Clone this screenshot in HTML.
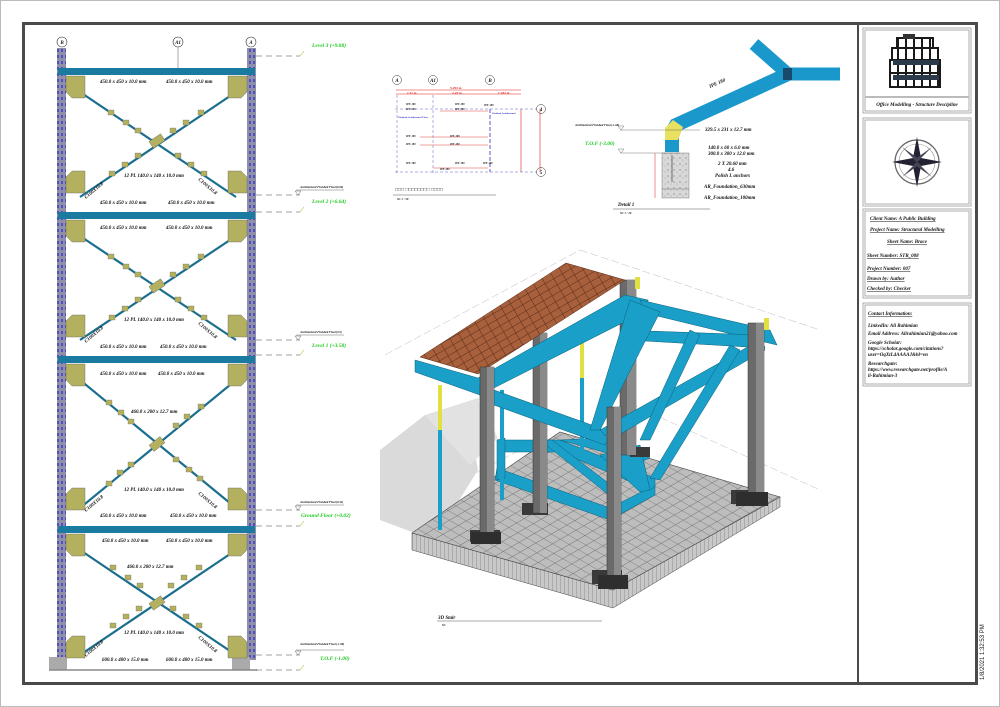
<!DOCTYPE html>
<html><head><meta charset="utf-8"><style>
html,body{margin:0;padding:0;background:#fff;}
svg{display:block;font-family:"Liberation Serif",serif;}
.t{font-style:italic;font-weight:bold;font-size:5px;fill:#111;}
.g{font-style:italic;font-weight:bold;font-size:5.5px;fill:#22cc22;}
.s{font-style:italic;font-weight:bold;font-size:3px;fill:#111;}
.tb{font-style:italic;font-weight:bold;font-size:5px;fill:#111;text-decoration:underline;}
</style></head><body>
<svg width="1000" height="707" viewBox="0 0 1000 707" xmlns="http://www.w3.org/2000/svg">
<defs>
<pattern id="col" width="8" height="6" patternUnits="userSpaceOnUse">
<rect width="8" height="6" fill="#8f8fa8"/><rect x="1" y="1" width="2" height="3" fill="#5050c0"/><rect x="5" y="1" width="2" height="3" fill="#5050c0"/>
</pattern>
<pattern id="grid" width="9" height="9" patternUnits="userSpaceOnUse" patternTransform="rotate(-30) skewX(30)">
<rect width="9" height="9" fill="#bdbdbd"/><path d="M0 0H9M0 0V9" stroke="#6a6a6a" stroke-width=".8"/>
</pattern>
<pattern id="conc" width="6" height="6" patternUnits="userSpaceOnUse">
<rect width="6" height="6" fill="#d8d8d8"/><circle cx="2" cy="2" r=".6" fill="#777"/><circle cx="5" cy="4" r=".5" fill="#999"/>
</pattern>
<pattern id="side" width="4" height="10" patternUnits="userSpaceOnUse">
<rect width="4" height="10" fill="#c8c8c8"/><path d="M0 0V10" stroke="#666" stroke-width=".6"/>
</pattern>
<pattern id="tile" width="10" height="7" patternUnits="userSpaceOnUse" patternTransform="rotate(-30)">
<rect width="10" height="7" fill="#a8603c"/><path d="M0 0H10M0 0V7" stroke="#5a2c18" stroke-width="1"/>
</pattern>
<g id="bay">
<polygon points="66,0 85,0 85,22 72,22 66,16" fill="#b3b060" stroke="#666" stroke-width=".4"/>
<polygon points="228,0 247,0 247,16 241,22 228,22" fill="#b3b060" stroke="#666" stroke-width=".4"/>
</g>
</defs>
<rect x="0.5" y="0.5" width="999" height="706" fill="#fff" stroke="#bbb"/>
<rect x="23.5" y="23.5" width="953" height="660" fill="none" stroke="#4a4a4a" stroke-width="3"/>
<line x1="858" y1="24" x2="858" y2="683" stroke="#4a4a4a" stroke-width="2"/>
<text x="984" y="680" transform="rotate(-90 984 680)" font-family="Liberation Sans,sans-serif" font-size="6" fill="#222">1/8/2021 1:32:53 PM</text>

<!-- ============ LEFT ELEVATION ============ -->
<g font-family="Liberation Serif,serif">
<circle cx="62" cy="42" r="5" fill="#fff" stroke="#333" stroke-width=".6"/><text x="62" y="44" class="t" text-anchor="middle">B</text>
<circle cx="178" cy="42" r="5" fill="#fff" stroke="#333" stroke-width=".6"/><text x="178" y="44" class="t" text-anchor="middle">A1</text>
<circle cx="251" cy="42" r="5" fill="#fff" stroke="#333" stroke-width=".6"/><text x="251" y="44" class="t" text-anchor="middle">A</text>
<line x1="178" y1="47" x2="178" y2="68" stroke="#555" stroke-width=".5"/>
<rect x="57" y="48" width="9" height="612" fill="url(#col)"/>
<rect x="247" y="48" width="9" height="612" fill="url(#col)"/>
<rect x="58" y="68" width="197" height="7" fill="#1a7aa0"/>
<rect x="58" y="212" width="197" height="7" fill="#1a7aa0"/>
<rect x="58" y="356" width="197" height="7" fill="#1a7aa0"/>
<rect x="58" y="526" width="197" height="7" fill="#1a7aa0"/>
<rect x="49" y="657" width="18" height="13" fill="#aaa"/><rect x="232" y="657" width="18" height="13" fill="#aaa"/>
<line x1="49" y1="670" x2="257" y2="670" stroke="#888" stroke-width="1.5"/>
<g stroke="#1a6e8e" stroke-width="2.2">
<line x1="80" y1="92" x2="236" y2="197"/><line x1="236" y1="92" x2="80" y2="197"/>
<line x1="80" y1="236" x2="236" y2="340"/><line x1="236" y1="236" x2="80" y2="340"/>
<line x1="80" y1="380" x2="236" y2="508"/><line x1="236" y1="380" x2="80" y2="508"/>
<line x1="80" y1="550" x2="236" y2="655"/><line x1="236" y1="550" x2="80" y2="655"/>
</g>
<use href="#bay" y="76"/><use href="#bay" y="220"/><use href="#bay" y="364"/><use href="#bay" y="534"/>
<g transform="translate(0,183) scale(1,-1)"><use href="#bay" y="-10"/></g>
<g transform="translate(0,327) scale(1,-1)"><use href="#bay" y="-10"/></g>
<g transform="translate(0,500) scale(1,-1)"><use href="#bay" y="-10"/></g>
<g transform="translate(0,648) scale(1,-1)"><use href="#bay" y="-10"/></g>
<g fill="#b3b060" stroke="#666" stroke-width=".4">
<rect x="150" y="137" width="14" height="8" transform="rotate(-34 157 141)"/>
<rect x="150" y="282" width="14" height="8" transform="rotate(-34 157 286)"/>
<rect x="150" y="440" width="14" height="8" transform="rotate(-39 157 444)"/>
<rect x="150" y="599" width="14" height="8" transform="rotate(-34 157 603)"/>
</g>
<g fill="#b3b060" stroke="#666" stroke-width=".3">
<rect x="108" y="110" width="6" height="5"/><rect x="123" y="120" width="6" height="5"/><rect x="135" y="128" width="6" height="5"/>
<rect x="175" y="153" width="6" height="5"/><rect x="188" y="162" width="6" height="5"/><rect x="201" y="171" width="6" height="5"/>
<rect x="198" y="110" width="6" height="5"/><rect x="183" y="120" width="6" height="5"/><rect x="170" y="128" width="6" height="5"/>
<rect x="135" y="153" width="6" height="5"/><rect x="122" y="162" width="6" height="5"/><rect x="109" y="171" width="6" height="5"/>
<rect x="108" y="254" width="6" height="5"/><rect x="123" y="264" width="6" height="5"/><rect x="135" y="272" width="6" height="5"/>
<rect x="175" y="297" width="6" height="5"/><rect x="188" y="306" width="6" height="5"/><rect x="201" y="315" width="6" height="5"/>
<rect x="198" y="254" width="6" height="5"/><rect x="183" y="264" width="6" height="5"/><rect x="170" y="272" width="6" height="5"/>
<rect x="135" y="297" width="6" height="5"/><rect x="122" y="306" width="6" height="5"/><rect x="109" y="315" width="6" height="5"/>
<rect x="106" y="400" width="6" height="5"/><rect x="118" y="410" width="6" height="5"/><rect x="128" y="419" width="6" height="5"/>
<rect x="173" y="457" width="6" height="5"/><rect x="186" y="467" width="6" height="5"/><rect x="197" y="476" width="6" height="5"/>
<rect x="198" y="404" width="6" height="5"/><rect x="184" y="414" width="6" height="5"/><rect x="173" y="423" width="6" height="5"/>
<rect x="128" y="462" width="6" height="5"/><rect x="117" y="470" width="6" height="5"/><rect x="106" y="481" width="6" height="5"/>
<rect x="110" y="565" width="6" height="5"/><rect x="125" y="575" width="6" height="5"/><rect x="137" y="583" width="6" height="5"/>
<rect x="170" y="606" width="6" height="5"/><rect x="183" y="614" width="6" height="5"/><rect x="196" y="623" width="6" height="5"/>
<rect x="196" y="565" width="6" height="5"/><rect x="181" y="575" width="6" height="5"/><rect x="168" y="583" width="6" height="5"/>
<rect x="136" y="606" width="6" height="5"/><rect x="123" y="614" width="6" height="5"/><rect x="110" y="623" width="6" height="5"/>
</g>
<g class="t">
<text x="100" y="83">450.0 x 450 x 10.0 mm</text><text x="166" y="83">450.0 x 450 x 10.0 mm</text>
<text x="100" y="204">450.0 x 450 x 10.0 mm</text><text x="168" y="204">450.0 x 450 x 10.0 mm</text>
<text x="100" y="229">450.0 x 450 x 10.0 mm</text><text x="166" y="229">450.0 x 450 x 10.0 mm</text>
<text x="100" y="348">450.0 x 450 x 10.0 mm</text><text x="160" y="348">450.0 x 450 x 10.0 mm</text>
<text x="100" y="375">450.0 x 450 x 10.0 mm</text><text x="158" y="375">450.0 x 450 x 10.0 mm</text>
<text x="100" y="517">450.0 x 450 x 10.0 mm</text><text x="170" y="517">450.0 x 450 x 10.0 mm</text>
<text x="102" y="542">450.0 x 450 x 10.0 mm</text><text x="166" y="542">450.0 x 450 x 10.0 mm</text>
<text x="102" y="661">600.0 x 400 x 15.0 mm</text><text x="166" y="661">600.0 x 400 x 15.0 mm</text>
<text x="124" y="177">12 PL 140.0 x 140 x 10.0 mm</text>
<text x="124" y="321">12 PL 140.0 x 140 x 10.0 mm</text>
<text x="124" y="491">12 PL 140.0 x 140 x 10.0 mm</text>
<text x="124" y="634">12 PL 140.0 x 140 x 10.0 mm</text>
<text x="131" y="413">460.0 x 200 x 12.7 mm</text>
<text x="127" y="568">460.0 x 200 x 12.7 mm</text>
</g>
<g class="t" font-size="6">
<text x="86" y="199" transform="rotate(-40 86 199)">C100X10.8</text>
<text x="198" y="180" transform="rotate(40 198 180)">C100X10.8</text>
<text x="86" y="343" transform="rotate(-40 86 343)">C100X10.8</text>
<text x="198" y="324" transform="rotate(40 198 324)">C100X10.8</text>
<text x="86" y="512" transform="rotate(-40 86 512)">C100X10.8</text>
<text x="198" y="494" transform="rotate(40 198 494)">C100X10.8</text>
<text x="86" y="657" transform="rotate(-40 86 657)">C100X10.8</text>
<text x="198" y="638" transform="rotate(40 198 638)">C100X10.8</text>
</g>
<g stroke="#444" stroke-width=".5" stroke-dasharray="6,4" fill="none">
<line x1="256" y1="56" x2="300" y2="56"/>
<line x1="256" y1="195" x2="300" y2="195"/><line x1="256" y1="212" x2="300" y2="212"/>
<line x1="256" y1="340" x2="300" y2="340"/><line x1="256" y1="355" x2="300" y2="355"/>
<line x1="256" y1="510" x2="300" y2="510"/><line x1="256" y1="526" x2="300" y2="526"/>
<line x1="256" y1="655" x2="300" y2="655"/><line x1="256" y1="670" x2="300" y2="670"/>
</g>
<g stroke="#bbb830" stroke-width=".6" fill="none">
<path d="M300 56l4 -5M300 212l4 -5M300 355l4 -5M300 526l4 -5M300 670l4 -5"/>
</g>
<g stroke="#444" stroke-width=".4" fill="none">
<path d="M298 195l3 -4h-6zM298 340l3 -4h-6zM298 510l3 -4h-6zM298 655l3 -4h-6z"/>
<path d="M296 190h48M296 335h48M296 505h48M296 650h48"/>
</g>
<text x="312" y="47" class="g">Level 3 (+9.88)</text>
<text x="312" y="203" class="g">Level 2 (+6.64)</text>
<text x="312" y="347" class="g">Level 1 (+3.58)</text>
<text x="301" y="517" class="g">Ground Floor (+0.02)</text>
<text x="320" y="660" class="g">T.O.F (-1.00)</text>
<text x="300" y="188" class="s">Architectural Finished Floor(6.96)</text>
<text x="300" y="333" class="s">Architectural Finished Floor(3.9)</text>
<text x="300" y="503" class="s">Architectural Finished Floor(0.34)</text>
<text x="300" y="645" class="s">Architectural Finished Floor(-1.68)</text>
</g>

<!-- ============ PLAN ============ -->
<g>
<g fill="#fff" stroke="#333" stroke-width=".5">
<circle cx="397" cy="80" r="4.5"/><circle cx="433" cy="80" r="4.5"/><circle cx="490" cy="80" r="4.5"/>
<circle cx="541" cy="109" r="4.5"/><circle cx="541" cy="172" r="4.5"/>
</g>
<g class="t" font-size="4.5" text-anchor="middle"><text x="397" y="82">A</text><text x="433" y="82">A1</text><text x="490" y="82">B</text><text x="541" y="111">4</text><text x="541" y="174">5</text></g>
<g stroke="#e02020" stroke-width=".6"><line x1="396" y1="90" x2="521" y2="90"/><line x1="396" y1="94" x2="521" y2="94"/><line x1="521" y1="109" x2="521" y2="172"/><line x1="540" y1="109" x2="540" y2="172"/></g>
<g font-size="3.5" font-weight="bold" font-style="italic" fill="#e02020"><text x="450" y="89">5.293 m</text><text x="407" y="94">1.11 m</text><text x="452" y="94">2.45 m</text><text x="498" y="94">1.282 m</text></g>
<g stroke="#6060c0" stroke-width=".5" stroke-dasharray="3,2"><line x1="395" y1="109" x2="537" y2="109"/><line x1="395" y1="172" x2="537" y2="172"/><line x1="397" y1="95" x2="397" y2="175"/><line x1="433" y1="95" x2="433" y2="175"/></g>
<line x1="490" y1="109" x2="490" y2="172" stroke="#3030c0" stroke-width=".8" stroke-dasharray="4,2"/>
<g stroke="#e04040" stroke-width=".5"><line x1="440" y1="111" x2="488" y2="111"/><line x1="420" y1="137" x2="488" y2="137"/><line x1="420" y1="145" x2="488" y2="145"/><line x1="433" y1="168" x2="488" y2="168"/></g>
<g font-size="2.8" font-weight="bold" font-style="italic" fill="#222">
<text x="406" y="105">IPE 180</text><text x="455" y="105">IPE 180</text><text x="484" y="106">IPE 180</text>
<text x="406" y="110">IPE 180</text><text x="455" y="110">IPE 180</text>
<text x="406" y="137">IPE 180</text><text x="450" y="137">IPE 180</text>
<text x="406" y="145">IPE 180</text><text x="450" y="145">IPE 180</text>
<text x="406" y="164">IPE 180</text><text x="455" y="164">IPE 180</text><text x="483" y="164">IPE 180</text>
<text x="440" y="170">IPE 180</text>
</g>
<g font-size="2.5" font-weight="bold" font-style="italic" fill="#2020c0"><text x="398" y="118">Finished Architectural Floor</text><text x="492" y="114">Finished Architectural</text></g>
<text x="395" y="191" font-family="Liberation Sans,sans-serif" font-size="5" fill="#333">□□□ □□□□□□□□ □□□□</text>
<line x1="393" y1="195" x2="496" y2="195" stroke="#555" stroke-width=".5"/>
<text x="397" y="200" class="s">SC 1 : 50</text>
</g>

<!-- ============ DETAIL ============ -->
<g>
<path d="M672 152 V132 L676 125 L788 74" stroke="#1a98cc" stroke-width="14" fill="none" stroke-linejoin="miter"/>
<path d="M788 74 L754 44 M788 74 H840" stroke="#1a98cc" stroke-width="13" fill="none"/>
<rect x="783" y="68" width="9" height="12" fill="#184a6a"/>
<polygon points="665,128 673,120 683,127 678,140 665,140" fill="#e8e060"/>
<text x="710" y="88" class="t" font-size="7" transform="rotate(-24 710 88)">IPE 180</text>
<rect x="662" y="153" width="27" height="45" fill="url(#conc)" stroke="#666" stroke-width=".4"/>
<line x1="662" y1="189" x2="689" y2="189" stroke="#666" stroke-width=".4"/>
<line x1="672" y1="155" x2="672" y2="182" stroke="#555" stroke-width=".8"/>
<line x1="620" y1="130" x2="700" y2="130" stroke="#555" stroke-width=".4"/>
<line x1="620" y1="153" x2="680" y2="153" stroke="#555" stroke-width=".4"/>
<line x1="655" y1="153" x2="655" y2="198" stroke="#e02020" stroke-width=".5"/>
<path d="M621 130l3 -4h-6z M621 153l3 -4h-6z" stroke="#555" stroke-width=".4" fill="none"/>
<text x="575" y="126" class="s">Architectural Finished Floor(-1.68)</text>
<text x="585" y="145" class="g">T.O.F (-3.00)</text>
<g class="t" font-size="5">
<text x="705" y="131">329.5 x 231 x 12.7 mm</text>
<text x="708" y="149">140.0 x 60 x 6.0 mm</text>
<text x="708" y="155">300.0 x 300 x 12.0 mm</text>
<text x="718" y="165">2 X 20.60 mm</text>
<text x="728" y="171">4.6</text>
<text x="715" y="177">Polish L anchors</text>
<text x="704" y="188">AR_Foundation_630mm</text>
<text x="704" y="199">AR_Foundation_100mm</text>
<text x="618" y="206">Detail 1</text>
</g>
<line x1="613" y1="209" x2="710" y2="209" stroke="#555" stroke-width=".5"/>
<text x="620" y="214" class="s">SC 1 : 20</text>
</g>

<!-- ============ 3D VIEW ============ -->
<g>
<g stroke="#aaa" stroke-width=".4" stroke-dasharray="8,3" fill="none">
<line x1="385" y1="355" x2="580" y2="250"/><line x1="580" y1="250" x2="820" y2="330"/>
<line x1="600" y1="390" x2="820" y2="490"/>
<line x1="385" y1="520" x2="520" y2="450"/>
</g>
<polygon points="380,450 425,415 470,425 478,470 450,515 420,535 380,520" fill="#dadada"/>
<polygon points="425,415 478,398 498,438 470,465" fill="#e2e2e2"/>
<!-- slab -->
<polygon points="412,550 613,608 780,507 780,497 613,590 412,533" fill="url(#side)" stroke="#444" stroke-width=".5"/>
<polygon points="412,533 560,432 780,497 613,590" fill="url(#grid)" stroke="#444" stroke-width=".6"/>
<!-- lower frame -->
<g fill="#1aa0c8" stroke="#0b5f7a" stroke-width=".5">
<polygon points="495,480 610,520 655,495 655,485 610,508 497,468"/>
<polygon points="497,440 560,440 655,478 655,487 650,490 560,452 500,452"/>
<polygon points="497,440 505,438 505,478 497,480"/>
<polygon points="540,440 552,440 620,492 610,496"/>
<polygon points="560,440 600,438 650,458 640,462"/>
<polygon points="600,455 640,445 650,490 640,492"/>
</g>
<g fill="#3a3a3a">
<rect x="470" y="530" width="30" height="12"/><rect x="522" y="503" width="26" height="12"/><rect x="592" y="570" width="30" height="14"/><rect x="731" y="490" width="32" height="14"/><rect x="630" y="447" width="20" height="10"/>
</g>
<rect x="620" y="280" width="16" height="175" fill="#6a6a6a" stroke="#333" stroke-width=".5"/>
<rect x="627" y="280" width="9" height="175" fill="#8a8a8a"/>
<rect x="533" y="333" width="14" height="180" fill="#6a6a6a" stroke="#333" stroke-width=".5"/>
<rect x="540" y="333" width="7" height="180" fill="#8a8a8a"/>
<rect x="438" y="385" width="4" height="145" fill="#1aa0c8"/>
<rect x="438" y="385" width="4" height="45" fill="#e0e040"/>
<rect x="500" y="390" width="4" height="110" fill="#1aa0c8"/>
<rect x="580" y="338" width="4" height="115" fill="#1aa0c8"/><rect x="580" y="338" width="4" height="40" fill="#e0e040"/>
<polygon points="420,357 566,263 625,280 478,374" fill="url(#tile)" stroke="#5a2c18" stroke-width=".5"/>
<g fill="#1aa0c8" stroke="#0b5f7a" stroke-width=".5">
<polygon points="415,360 478,378 625,295 648,300 648,310 480,395 415,372"/>
<polygon points="480,385 600,428 608,440 605,445 480,400"/>
<polygon points="640,300 770,330 777,345 645,313"/>
<polygon points="620,330 760,335 765,348 628,340"/>
<polygon points="600,430 760,340 765,350 610,440"/>
<polygon points="630,300 660,312 600,430 590,430"/>
<polygon points="690,330 700,335 650,440 640,440"/>
<polygon points="730,345 740,350 660,480 650,478"/>
</g>
<rect x="480" y="367" width="14" height="175" fill="#6a6a6a" stroke="#333" stroke-width=".5"/>
<rect x="487" y="367" width="7" height="175" fill="#8a8a8a"/>
<rect x="607" y="407" width="14" height="180" fill="#6a6a6a" stroke="#333" stroke-width=".5"/>
<rect x="614" y="407" width="7" height="180" fill="#8a8a8a"/>
<rect x="748" y="323" width="16" height="180" fill="#6a6a6a" stroke="#333" stroke-width=".5"/>
<rect x="756" y="323" width="8" height="180" fill="#8a8a8a"/>
<rect x="764" y="318" width="5" height="12" fill="#e0e040"/><rect x="635" y="277" width="5" height="12" fill="#e0e040"/>
<rect x="471" y="532" width="30" height="12" fill="#2e2e2e"/><rect x="598" y="575" width="30" height="14" fill="#2e2e2e"/><rect x="736" y="492" width="32" height="14" fill="#2e2e2e"/>
<text x="438" y="619" class="t">3D Stair</text>
<line x1="437" y1="621" x2="602" y2="621" stroke="#555" stroke-width=".5"/>
<text x="442" y="626" class="s">SC</text>
</g>

<!-- ============ TITLE BLOCK ============ -->
<g stroke="#999" fill="none" stroke-width=".8">
<rect x="863" y="28" width="108" height="85"/><rect x="865" y="30" width="104" height="81"/>
<rect x="863" y="118" width="108" height="88"/><rect x="865" y="120" width="104" height="84"/>
<rect x="863" y="209" width="108" height="89"/><rect x="865" y="211" width="104" height="85"/>
<rect x="863" y="303" width="108" height="83"/><rect x="865" y="305" width="104" height="79"/>
</g>
<rect x="865" y="96" width="104" height="2" fill="#bbb"/>
<g fill="none" stroke="#1a1a1a" stroke-width="2">
<rect x="897" y="38" width="36" height="10"/><rect x="892" y="48" width="46" height="12"/><rect x="890" y="60" width="50" height="13"/><rect x="890" y="73" width="50" height="14"/>
<path d="M898 38V87M906 38V87M914 38V87M922 38V87M930 38V87M938 48V87"/>
</g>
<rect x="893" y="60" width="46" height="5" fill="#2a3a4a"/>
<rect x="893" y="75" width="46" height="5" fill="#2a3a4a"/>
<rect x="903" y="34" width="12" height="5" fill="#333"/>
<text x="917" y="106" class="t" text-anchor="middle">Office Modelling - Structure Descipline</text>
<g transform="translate(917,162)">
<circle r="22" fill="none" stroke="#666" stroke-width="1.2"/><circle r="18" fill="none" stroke="#999" stroke-width=".6"/>
<polygon points="0,-25 4,-4 0,0 -4,-4" fill="#223"/><polygon points="0,25 4,4 0,0 -4,4" fill="#223"/>
<polygon points="-25,0 -4,-4 0,0 -4,4" fill="#223"/><polygon points="25,0 4,-4 0,0 4,4" fill="#223"/>
<polygon points="-15,-15 2,-3 0,0" fill="#445"/><polygon points="15,15 -2,3 0,0" fill="#445"/>
<polygon points="15,-15 -3,-2 0,0" fill="#445"/><polygon points="-15,15 3,2 0,0" fill="#445"/>
</g>
<g class="tb" font-size="5">
<text x="870" y="220">Client Name:     A Public Building</text>
<text x="870" y="231">Project  Name:   Structural Modelling</text>
<text x="887" y="243">Sheet Name:      Brace</text>
<text x="867" y="257">Sheet Number:   STR_008</text>
<text x="867" y="270">Project Number:  007</text>
<text x="867" y="280">Drawn by:    Author</text>
<text x="867" y="290">Checked by:       Checker</text>
</g>
<g class="t" font-size="5">
<text x="868" y="315" text-decoration="underline">Contact Information:</text>
<text x="868" y="327">LinkedIn: Ali Rahimian</text>
<text x="868" y="335">Email Address: Alirahimian21@yahoo.com</text>
<text x="868" y="344">Google Scholar:</text>
<text x="868" y="350">https://scholar.google.com/citations?</text>
<text x="868" y="356">user=OqXtL4AAAAJ&amp;hl=en</text>
<text x="868" y="365">Researchgate:</text>
<text x="868" y="371">https://www.researchgate.net/profile/A</text>
<text x="868" y="377">li-Rahimian-3</text>
</g>
</svg>
</body></html>
